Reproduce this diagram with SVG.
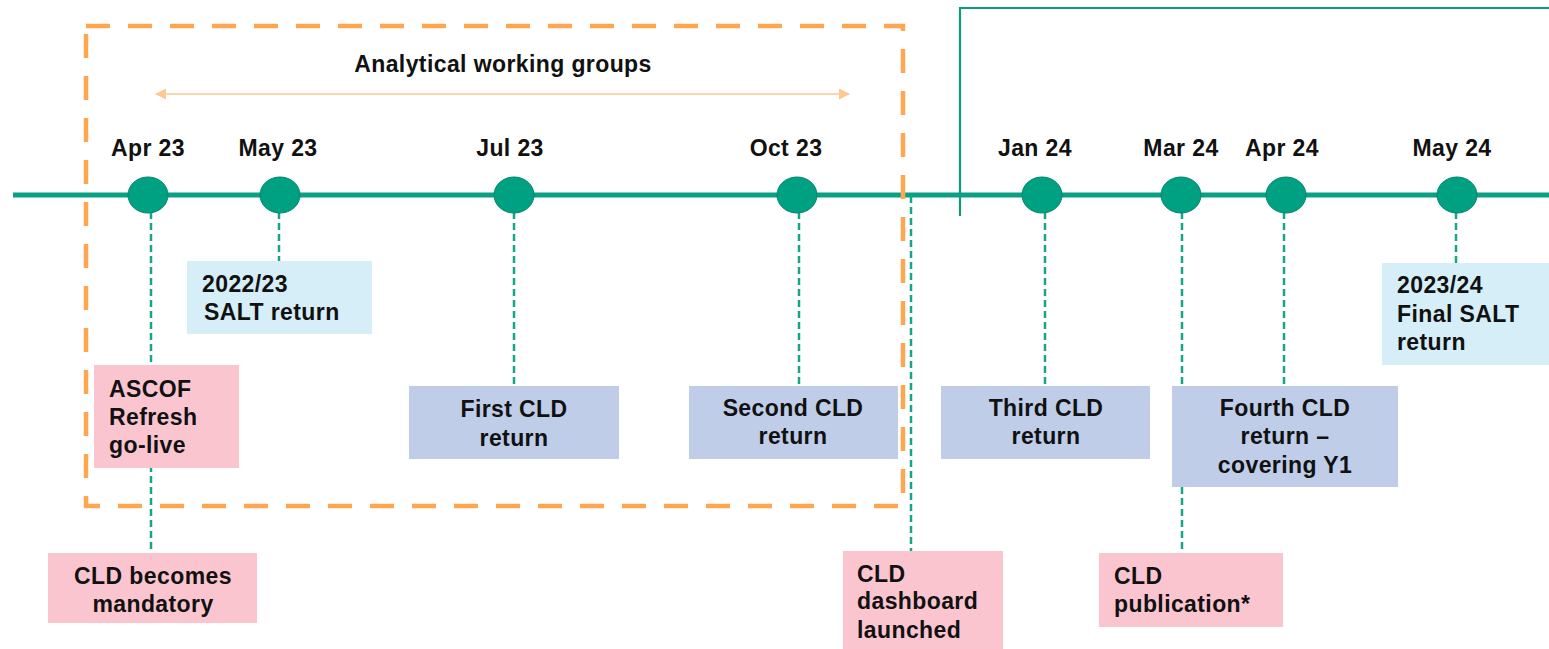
<svg xmlns="http://www.w3.org/2000/svg" width="1549" height="649" viewBox="0 0 1549 649">
  <defs>
    <style>
      text { font-family: "Liberation Sans", Arial, sans-serif; font-weight: bold; font-size: 23px; letter-spacing: 0.4px; fill: #111; }
      .mid { text-anchor: middle; }
      .pink { fill: #fbc5d0; }
      .blue { fill: #bfcde9; }
      .sky { fill: #d6eef7; }
      .stem { stroke: #16a687; stroke-width: 2.5; stroke-dasharray: 7 4; fill: none; }
      .dot { fill: #00a083; stroke: #05876e; stroke-width: 1; }
    </style>
    <marker id="ah" viewBox="0 0 10 10" refX="9" refY="5" markerWidth="7" markerHeight="7" orient="auto-start-reverse">
      <path d="M0,0 L10,5 L0,10 z" fill="#ffc890"/>
    </marker>
  </defs>

  <rect width="1549" height="649" fill="#fff"/>

  <!-- frame around the later period -->
  <path d="M960,216 V8 H1552" fill="none" stroke="#0a9d80" stroke-width="2.2"/>

  <!-- main timeline axis -->
  <line x1="13" y1="195" x2="1549" y2="195" stroke="#0aa083" stroke-width="5"/>

  <!-- connectors from milestones to event boxes -->
  <g id="connectors">
    <line class="stem" x1="151" y1="212" x2="151" y2="553"/>
    <line class="stem" x1="279" y1="212" x2="279" y2="261"/>
    <line class="stem" x1="514" y1="212" x2="514" y2="386"/>
    <line class="stem" x1="799" y1="212" x2="799" y2="386"/>
    <line class="stem" x1="911" y1="196" x2="911" y2="551"/>
    <line class="stem" x1="1045" y1="212" x2="1045" y2="386"/>
    <line class="stem" x1="1182" y1="212" x2="1182" y2="553"/>
    <line class="stem" x1="1284" y1="212" x2="1284" y2="386"/>
    <line class="stem" x1="1456" y1="212" x2="1456" y2="263"/>
  </g>

  <!-- analytical working groups period -->
  <g id="working-groups">
    <rect x="86" y="26" width="817" height="480" fill="none" stroke="#ffa74f" stroke-width="4.5" stroke-dasharray="24 18"/>
    <line x1="156" y1="94" x2="849" y2="94" stroke="#ffc890" stroke-width="1.6" marker-start="url(#ah)" marker-end="url(#ah)"/>
    <text class="mid" x="503" y="72">Analytical working groups</text>
  </g>

  <!-- milestones -->
  <g id="apr23"><ellipse class="dot" cx="148" cy="195" rx="20" ry="18"/><text class="mid" x="148" y="156">Apr 23</text></g>
  <g id="may23"><ellipse class="dot" cx="280" cy="195" rx="20" ry="18"/><text class="mid" x="278" y="156">May 23</text></g>
  <g id="jul23"><ellipse class="dot" cx="514" cy="195" rx="20" ry="18"/><text class="mid" x="510" y="156">Jul 23</text></g>
  <g id="oct23"><ellipse class="dot" cx="797" cy="195" rx="20" ry="18"/><text class="mid" x="786" y="156">Oct 23</text></g>
  <g id="jan24"><ellipse class="dot" cx="1042" cy="195" rx="20" ry="18"/><text class="mid" x="1035" y="156">Jan 24</text></g>
  <g id="mar24"><ellipse class="dot" cx="1181" cy="195" rx="20" ry="18"/><text class="mid" x="1181" y="156">Mar 24</text></g>
  <g id="apr24"><ellipse class="dot" cx="1286" cy="195" rx="20" ry="18"/><text class="mid" x="1282" y="156">Apr 24</text></g>
  <g id="may24"><ellipse class="dot" cx="1457" cy="195" rx="20" ry="18"/><text class="mid" x="1452" y="156">May 24</text></g>

  <!-- event boxes -->
  <g id="salt-2223">
    <rect class="sky" x="187" y="261" width="185" height="73"/>
    <text x="202" y="292">2022/23</text>
    <text x="204" y="320">SALT return</text>
  </g>
  <g id="ascof">
    <rect class="pink" x="94" y="365" width="145" height="103"/>
    <text x="109" y="397">ASCOF</text>
    <text x="109" y="425">Refresh</text>
    <text x="109" y="453">go-live</text>
  </g>
  <g id="cld-mandatory">
    <rect class="pink" x="48" y="553" width="209" height="70"/>
    <text class="mid" x="153" y="584">CLD becomes</text>
    <text class="mid" x="153" y="612">mandatory</text>
  </g>
  <g id="first-cld">
    <rect class="blue" x="409" y="386" width="210" height="73"/>
    <text class="mid" x="514" y="417">First CLD</text>
    <text class="mid" x="514" y="446">return</text>
  </g>
  <g id="second-cld">
    <rect class="blue" x="689" y="386" width="209" height="73"/>
    <text class="mid" x="793" y="416">Second CLD</text>
    <text class="mid" x="793" y="444">return</text>
  </g>
  <g id="cld-dashboard">
    <rect class="pink" x="843" y="551" width="160" height="100"/>
    <text x="857" y="582">CLD</text>
    <text x="857" y="609">dashboard</text>
    <text x="857" y="638">launched</text>
  </g>
  <g id="third-cld">
    <rect class="blue" x="941" y="386" width="209" height="73"/>
    <text class="mid" x="1046" y="416">Third CLD</text>
    <text class="mid" x="1046" y="444">return</text>
  </g>
  <g id="fourth-cld">
    <rect class="blue" x="1172" y="386" width="226" height="101"/>
    <text class="mid" x="1285" y="416">Fourth CLD</text>
    <text class="mid" x="1285" y="444">return –</text>
    <text class="mid" x="1285" y="473">covering Y1</text>
  </g>
  <g id="cld-publication">
    <rect class="pink" x="1099" y="553" width="184" height="74"/>
    <text x="1114" y="584">CLD</text>
    <text x="1114" y="612">publication*</text>
  </g>
  <g id="salt-2324">
    <rect class="sky" x="1382" y="263" width="170" height="102"/>
    <text x="1397" y="293">2023/24</text>
    <text x="1397" y="322">Final SALT</text>
    <text x="1397" y="350">return</text>
  </g>
</svg>
